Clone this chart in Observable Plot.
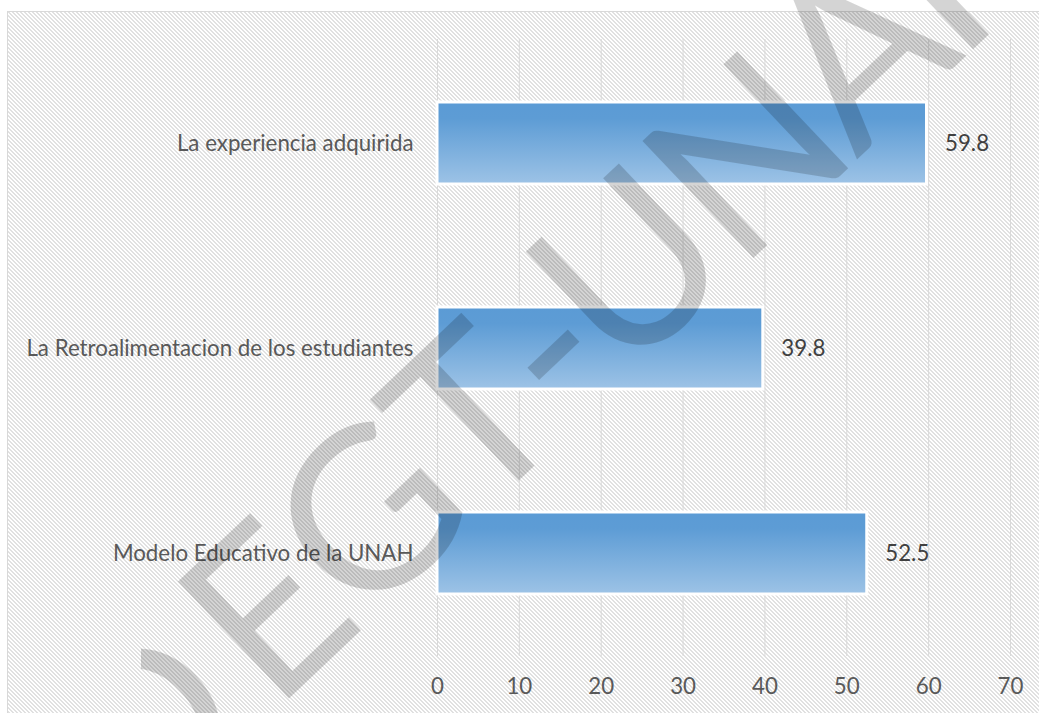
<!DOCTYPE html>
<html>
<head>
<meta charset="utf-8">
<script src="https://cdn.jsdelivr.net/npm/d3@7"></script>
<script src="https://cdn.jsdelivr.net/npm/@observablehq/plot@0.6"></script>
<style>
  html, body { margin: 0; padding: 0; background: #ffffff; }
  #chart svg { display: block; }
</style>
</head>
<body>
<div id="chart"></div>
<script>
const categories = [
  "La experiencia adquirida",
  "La Retroalimentacion de los estudiantes",
  "Modelo Educativo de la UNAH"
];
const values = [59.8, 39.8, 52.5];
const xTicks = [0, 10, 20, 30, 40, 50, 60, 70];
const watermarkLetters = ["D", "E", "G", "T", "-", "U", "N", "A", "H"];
const watermarkOffsets = [-110, 61, 201, 344, 445, 560, 722, 875, 1025];

const data = categories.map((c, i) => ({category: c, value: values[i]}));

const FS = 22.3;
const svg = Plot.plot({
  width: 1039,
  height: 713,
  marginLeft: 437,
  marginRight: 29,
  marginTop: 39,
  marginBottom: 57,
  style: {fontFamily: "Lato, 'Open Sans', sans-serif", fontSize: FS + "px", color: "#595959", background: "transparent", overflow: "visible"},
  x: {domain: [0, 70], ticks: xTicks, label: null},
  y: {domain: categories, paddingInner: 0.6, paddingOuter: 0.3, label: null},
  marks: [
    Plot.gridX(xTicks, {stroke: "#d9d9d9", strokeOpacity: 1, strokeWidth: 1}),
    Plot.barX(data, {x: "value", y: "category", fill: "url(#barGrad)", stroke: "#ffffff", strokeWidth: 3}),
    Plot.text(data, {x: "value", y: "category", text: d => d.value.toFixed(1), dx: 18, textAnchor: "start", fill: "#404040", fontSize: FS}),
    Plot.axisX({ticks: xTicks, tickSize: 0, tickPadding: 22, fill: "#595959", label: null, fontSize: FS}),
    Plot.axisY({tickSize: 0, tickPadding: 24, fill: "#595959", label: null, fontSize: FS})
  ]
});

document.getElementById("chart").appendChild(svg);

const s = d3.select(svg);
const defs = s.insert("defs", ":first-child");

// hatch pattern (downward diagonal)
const pat = defs.append("pattern")
  .attr("id", "hatch").attr("patternUnits", "userSpaceOnUse")
  .attr("width", 4).attr("height", 4);
pat.append("rect").attr("width", 4).attr("height", 4).attr("fill", "#ffffff");
for (let r = 0; r < 4; r++) {
  for (const c of [r, (r + 1) % 4]) {
    pat.append("rect").attr("x", c).attr("y", r).attr("width", 1).attr("height", 1)
      .attr("fill", "#e1e1e1").attr("shape-rendering", "crispEdges");
  }
}

// bar gradient
const grad = defs.append("linearGradient").attr("id", "barGrad")
  .attr("x1", 0).attr("y1", 0).attr("x2", 0).attr("y2", 1);
grad.append("stop").attr("offset", "0").attr("stop-color", "#5b9bd5");
grad.append("stop").attr("offset", "0.2").attr("stop-color", "#5d9cd5");
grad.append("stop").attr("offset", "1").attr("stop-color", "#9dc3e6");

// watermark clip
defs.append("clipPath").attr("id", "wmClip")
  .append("rect").attr("x", 141).attr("y", -100).attr("width", 1100).attr("height", 900);

// chart area background + border
s.insert("rect", "defs + *")
  .attr("x", 7.5).attr("y", 11.5).attr("width", 1100).attr("height", 800)
  .attr("fill", "url(#hatch)").attr("stroke", "#d9d9d9").attr("stroke-width", 1);

// watermark
const wm = s.append("g").attr("clip-path", "url(#wmClip)")
  .append("g")
  .attr("transform", "translate(277,710) rotate(-43.5)")
  .attr("fill", "#000000").attr("fill-opacity", 0.17)
  .attr("font-family", "Lato, 'Open Sans', sans-serif").attr("font-size", 225);
wm.selectAll("text").data(watermarkLetters).join("text")
  .attr("x", (d, i) => watermarkOffsets[i])
  .attr("text-anchor", "middle")
  .text(d => d);
</script>
</body>
</html>
